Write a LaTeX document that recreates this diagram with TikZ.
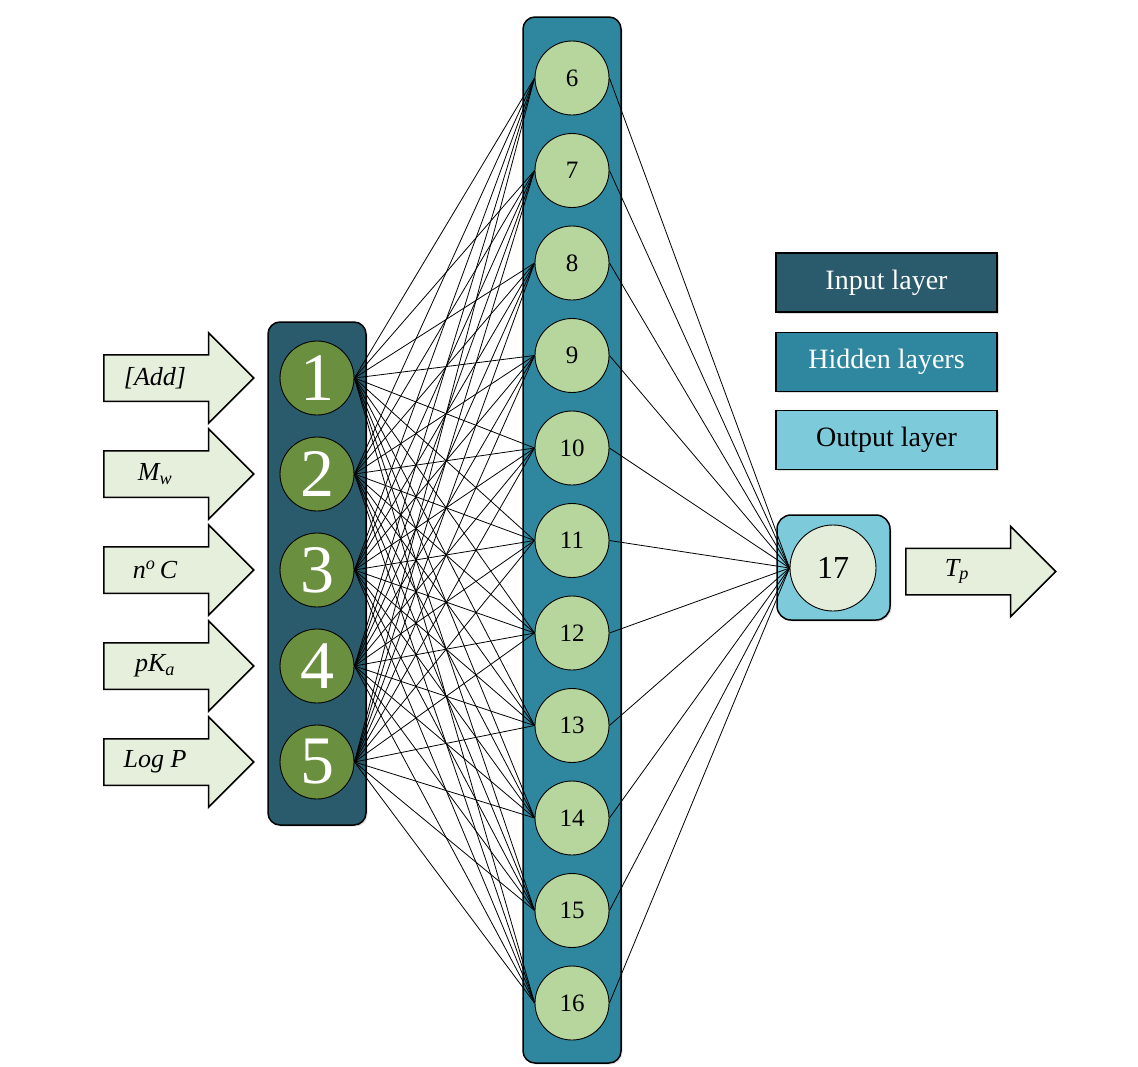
\documentclass[tikz,border=0pt]{standalone}
\usepackage{fontspec}
\setmainfont{Liberation Serif}
\usetikzlibrary{positioning,shapes.arrows,shadows}

\definecolor{inbox}{HTML}{2A5B6C}
\definecolor{hidbox}{HTML}{2F879F}
\definecolor{outbox}{HTML}{7DCADB}
\definecolor{inball}{HTML}{6A8F3E}
\definecolor{hidball}{HTML}{B6D69D}
\definecolor{outball}{HTML}{E3EDD9}
\definecolor{arrowfill}{HTML}{E5EFDC}

\tikzset{
  boxshadow/.style={drop shadow={opacity=0.25, shadow xshift=1.5pt, shadow yshift=-1.5pt}},
  layerbox/.style={draw, line width=1.5pt, rounded corners=12pt, boxshadow},
  keybox/.style={draw, line width=1.5pt, minimum width=221pt, minimum height=59pt, boxshadow, font=\fontsize{28}{30}\selectfont},
  inneuron/.style={draw, circle, line width=0.9pt, fill=inball, minimum size=74pt, inner sep=0pt, text=white, font=\fontsize{68}{68}\selectfont},
  hidneuron/.style={draw, circle, line width=0.9pt, fill=hidball, minimum size=74pt, inner sep=0pt, font=\fontsize{25}{25}\selectfont},
  signal/.style={draw, line width=1.5pt, single arrow, fill=arrowfill, minimum height=150pt, minimum width=89pt,
    single arrow head extend=22pt, inner ysep=0pt, text height=26pt, text depth=19pt, anchor=tail},
  signaltext/.style={font=\fontsize{26}{26}\selectfont\itshape},
  synapse/.style={line width=0.8pt}
}

\begin{document}
\begin{tikzpicture}[x=1pt,y=-1pt]
\useasboundingbox (0,0) rectangle (1138,1066);

% layer boxes
\node (inlayer) [layerbox, fill=inbox, minimum width=98pt, minimum height=503pt] at (317,573.5) {};
\node (hidlayer) [layerbox, fill=hidbox, minimum width=98pt, minimum height=1046pt] at (572,540) {};
\node (outlayer) [layerbox, fill=outbox, rounded corners=14pt, minimum width=113pt, minimum height=105pt] at (833.5,567.5) {};

% legend
\node (keyin) [keybox, fill=inbox, text=white] at (886.5,282.5) {Input layer};
\node (keyhid) [keybox, fill=hidbox, text=white] at (886.5,362) {Hidden layers};
\node (keyout) [keybox, fill=outbox] at (886.5,440) {Output layer};

% input neurons
\node (n1) [inneuron] at (317,378) {1};
\node (n2) [inneuron, below of=n1, node distance=96pt] {2};
\node (n3) [inneuron, below of=n2, node distance=96pt] {3};
\node (n4) [inneuron, below of=n3, node distance=96pt] {4};
\node (n5) [inneuron, below of=n4, node distance=96pt] {5};

% hidden neurons
\node (n6) [hidneuron] at (572,78) {6};
\node (n7) [hidneuron, below of=n6, node distance=92.5pt] {7};
\node (n8) [hidneuron, below of=n7, node distance=92.5pt] {8};
\node (n9) [hidneuron, below of=n8, node distance=92.5pt] {9};
\node (n10) [hidneuron, below of=n9, node distance=92.5pt] {10};
\node (n11) [hidneuron, below of=n10, node distance=92.5pt] {11};
\node (n12) [hidneuron, below of=n11, node distance=92.5pt] {12};
\node (n13) [hidneuron, below of=n12, node distance=92.5pt] {13};
\node (n14) [hidneuron, below of=n13, node distance=92.5pt] {14};
\node (n15) [hidneuron, below of=n14, node distance=92.5pt] {15};
\node (n16) [hidneuron, below of=n15, node distance=92.5pt] {16};

% output neuron
\node (n17) [draw, circle, line width=0.9pt, fill=outball, minimum size=86pt, inner sep=0pt, font=\fontsize{32}{32}\selectfont] at (833,568) {17};

% input and output signals
\node (add) [signal] at (103,378) {};
\node (addtxt) [signaltext] at (155,378) {[Add]};
\node (mw) [signal] at (103,474) {};
\node (mwtxt) [signaltext] at (155,474) {M\textsubscript{w}};
\node (nc) [signal] at (103,570) {};
\node (nctxt) [signaltext] at (155,570) {n\textsuperscript{o}\,C};
\node (pka) [signal] at (103,666) {};
\node (pkatxt) [signaltext] at (155,666) {pK\textsubscript{a}};
\node (logp) [signal] at (103,762) {};
\node (logptxt) [signaltext] at (155,762) {Log P};
\node (tp) [signal] at (905,571.5) {};
\node (tptxt) [signaltext] at (957,571.5) {T\textsubscript{p}};

% connections
\foreach \i in {1,...,5}
  \foreach \j in {6,...,16}
    \draw [synapse] (n\i.east) -- (n\j.west);
\foreach \j in {6,...,16}
  \draw [synapse] (n\j.east) -- (n17.west);
\end{tikzpicture}
\end{document}
